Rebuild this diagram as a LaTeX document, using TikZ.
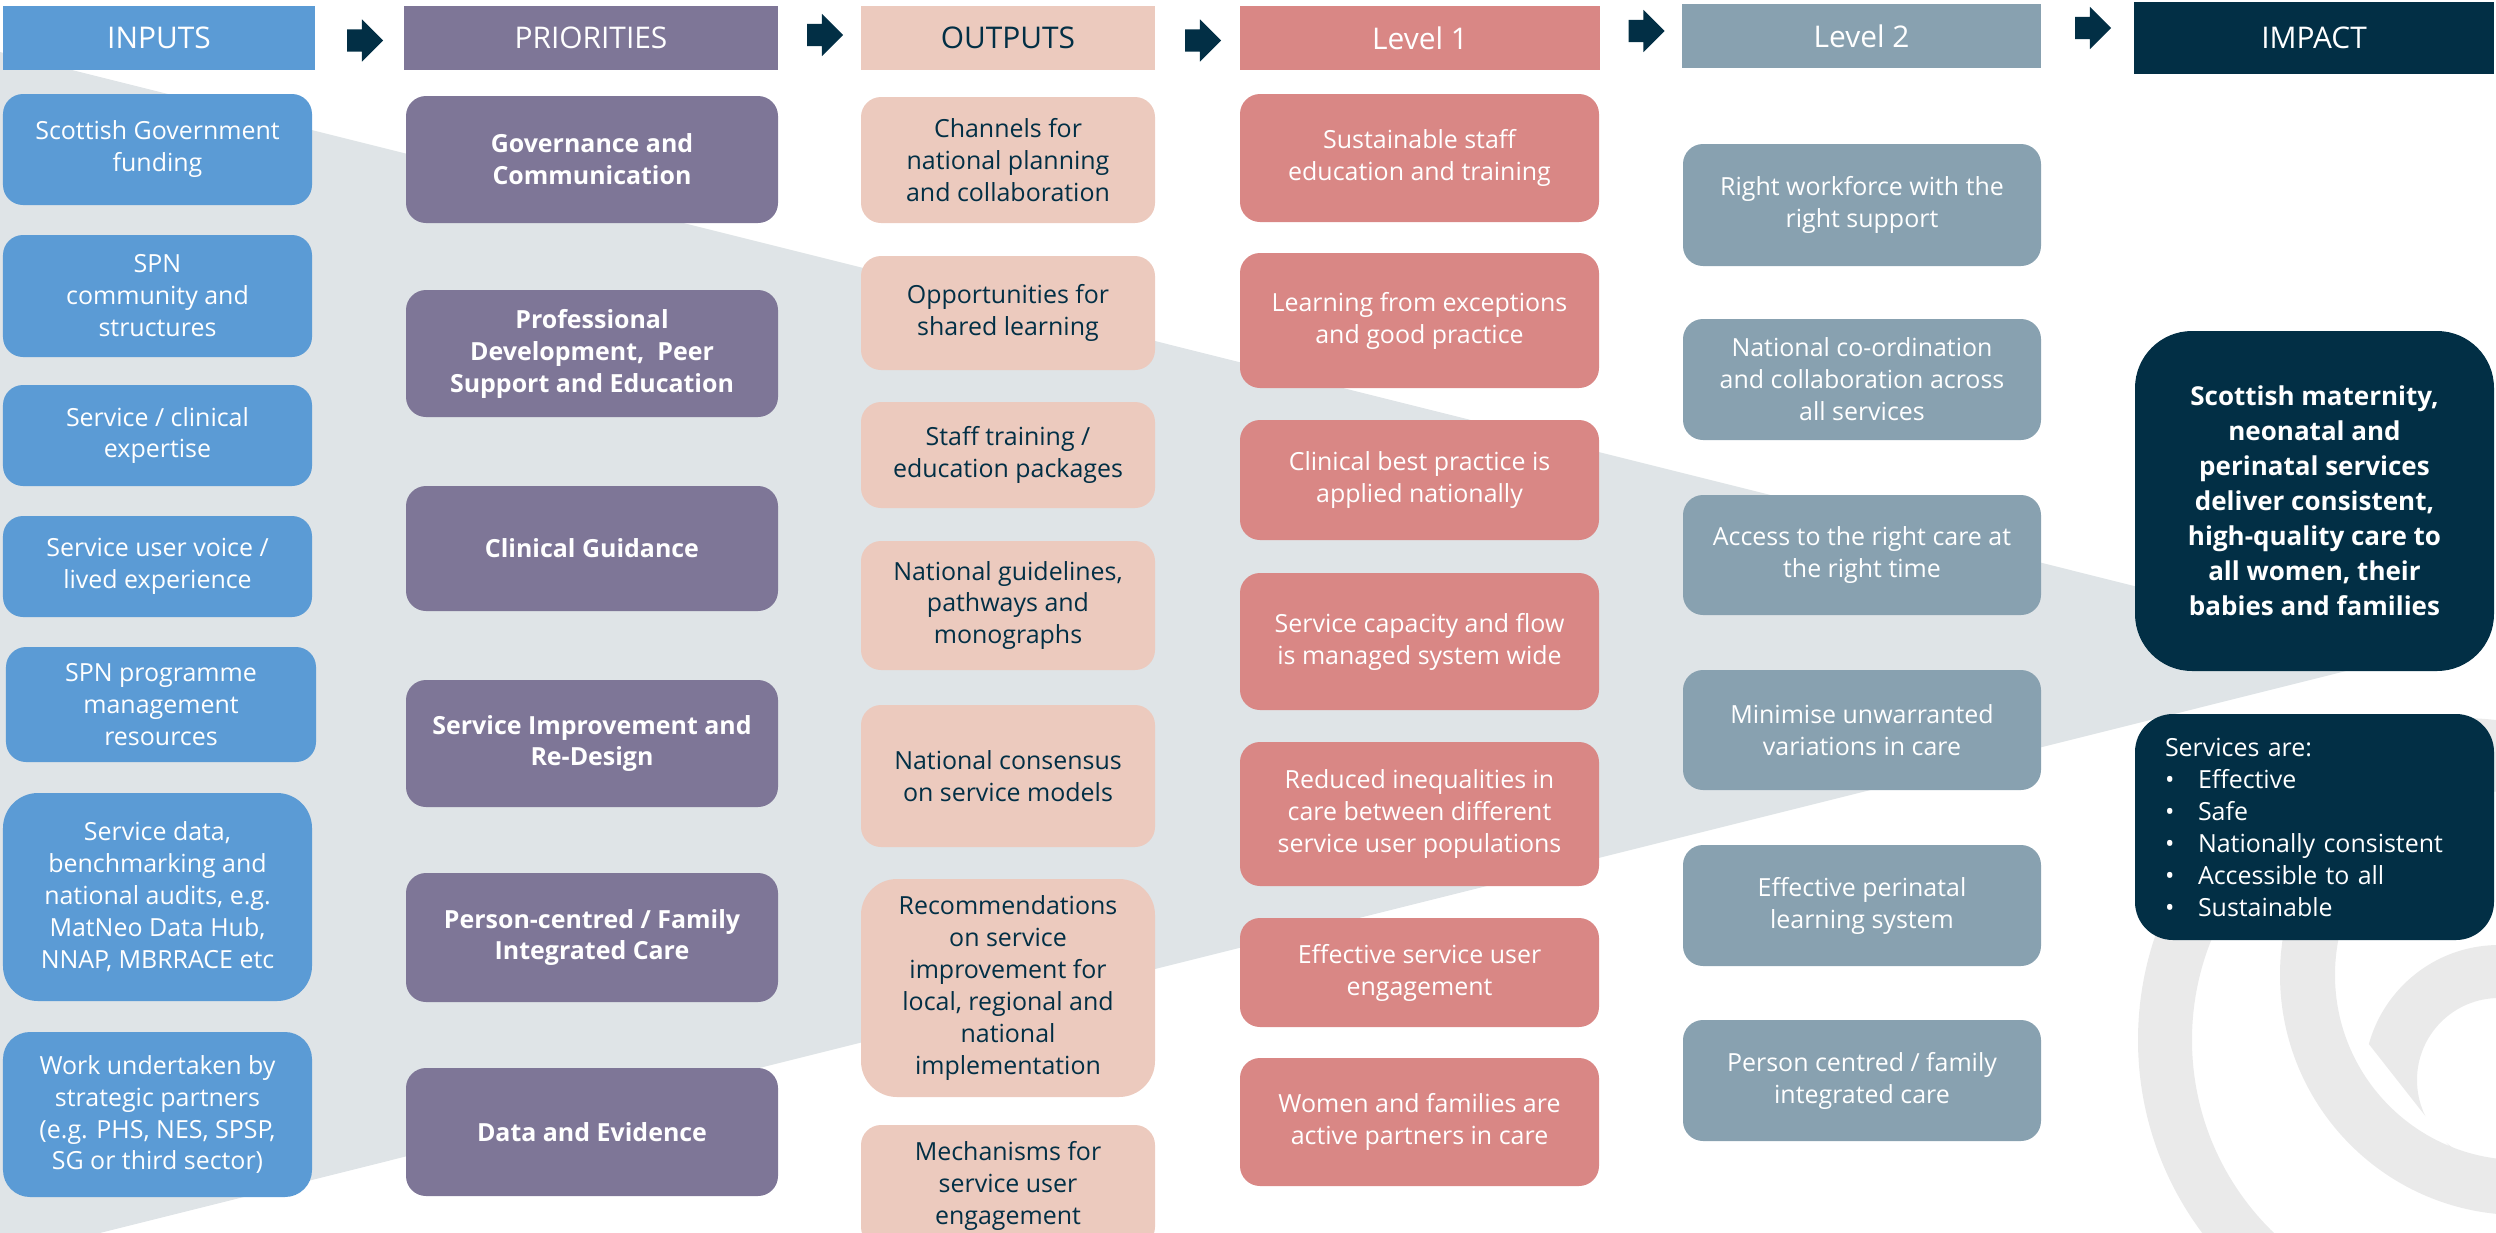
\documentclass[tikz,border=0pt]{standalone}
\usepackage{fontspec}
\setmainfont{Open Sans}
\usetikzlibrary{shapes.arrows, positioning, calc}
\definecolor{InputBlue}{HTML}{5B9BD5}
\definecolor{PriorityPurple}{HTML}{7E7697}
\definecolor{OutputPeach}{HTML}{ECCABE}
\definecolor{LevelOneRose}{HTML}{D98785}
\definecolor{LevelTwoSlate}{HTML}{88A1B0}
\definecolor{ImpactNavy}{HTML}{022F45}
\definecolor{FunnelGrey}{HTML}{DFE4E7}
\definecolor{LogoGrey}{HTML}{EAEAEA}
\tikzset{
  % Box styles
  headbox/.style={rectangle, minimum height=0.64cm, inner sep=0pt, text=white, font=\fontsize{8.5}{10}\selectfont},
  colbox/.style={rectangle, rounded corners=0.2cm, inner sep=0pt, align=center, text=white, font=\fontsize{7.1}{9.1}\selectfont},
  inputbox/.style={colbox, fill=InputBlue, minimum width=3.09cm},
  prioritybox/.style={colbox, fill=PriorityPurple, minimum width=3.72cm, font=\fontsize{7.1}{9.1}\selectfont\bfseries},
  outputbox/.style={colbox, fill=OutputPeach, text=ImpactNavy, minimum width=2.94cm},
  levelonebox/.style={colbox, fill=LevelOneRose, minimum width=3.59cm},
  leveltwobox/.style={colbox, fill=LevelTwoSlate, minimum width=3.58cm},
  impactbox/.style={colbox, fill=ImpactNavy, minimum width=3.59cm},
  % Arrow style
  blockarrow/.style={single arrow, fill=ImpactNavy, inner xsep=0pt, inner ysep=0.105cm, minimum width=0.41cm, minimum height=0.36cm, single arrow head extend=0.1cm}
}
\newcommand{\bul}{\makebox[0.33cm][l]{•}}

\begin{document}
\begin{tikzpicture}
  \useasboundingbox (0,0) rectangle (24.96,-12.32);

  % Background funnel and logo
  \begin{scope}
    \clip (0,0) rectangle (24.96,-12.32);
    \fill[FunnelGrey] (0,-0.52) -- (24.10,-6.55) -- (0,-12.58) -- cycle;
    \fill[LogoGrey, even odd rule] (24.60,-10.40) circle (3.22) (24.60,-10.40) circle (2.68);
    \fill[LogoGrey, even odd rule] (25.20,-9.75) circle (2.40) (25.20,-9.75) circle (1.85);
    \begin{scope}
      \clip (23.13,-9.73) -- (25.33,-12.53) -- (26,-12.53) -- (26,-9.0) -- (23.13,-9.0) -- cycle;
      \fill[LogoGrey, even odd rule] (24.99,-10.80) circle (1.35) (24.99,-10.80) circle (0.82);
    \end{scope}
  \end{scope}

  % Column headers
  \node[headbox, fill=InputBlue, minimum width=3.12cm] (hin) at (1.59,-0.38) {INPUTS};
  \node[headbox, fill=PriorityPurple, minimum width=3.74cm] (hpri) at (5.91,-0.38) {PRIORITIES};
  \node[headbox, fill=OutputPeach, text=ImpactNavy, minimum width=2.94cm] (hout) at (10.08,-0.38) {OUTPUTS};
  \node[headbox, fill=LevelOneRose, minimum width=3.60cm] (hlone) at (14.20,-0.38) {Level 1};
  \node[headbox, fill=LevelTwoSlate, minimum width=3.59cm] (hltwo) at (18.615,-0.36) {Level 2};
  \node[headbox, fill=ImpactNavy, minimum width=3.60cm, minimum height=0.72cm] (himp) at (23.14,-0.38) {IMPACT};

  % Arrows between headers
  \node[blockarrow, yshift=-0.025cm] (aone) at ($(hin.east)!0.5!(hpri.west)$) {};
  \node[blockarrow, yshift=0.03cm] (atwo) at ($(hpri.east)!0.5!(hout.west)$) {};
  \node[blockarrow, yshift=-0.025cm] (athree) at ($(hout.east)!0.5!(hlone.west)$) {};
  \node[blockarrow, yshift=0.06cm] (afour) at ($(hlone.east)!0.5!(hltwo.west)$) {};
  \node[blockarrow, yshift=0.09cm] (afive) at ($(hltwo.east)!0.5!(himp.west)$) {};

  % Inputs
  \node[inputbox, minimum height=1.11cm] (in1) at (1.575,-1.495) {Scottish Government\\funding};
  \node[inputbox, minimum height=1.22cm] (in2) at (1.575,-2.96) {SPN\\community and\\structures};
  \node[inputbox, minimum height=1.01cm] (in3) at (1.575,-4.355) {Service / clinical\\expertise};
  \node[inputbox, minimum height=1.01cm] (in4) at (1.575,-5.665) {Service user voice /\\lived experience};
  \node[inputbox, minimum height=1.15cm, minimum width=3.10cm] (in5) at (1.61,-7.045) {SPN programme\\management\\resources};
  \node[inputbox, minimum height=2.08cm, rounded corners=0.35cm] (in6) at (1.575,-8.97) {Service data,\\benchmarking and\\national audits, e.g.\\MatNeo Data Hub,\\NNAP, MBRRACE etc};
  \node[inputbox, minimum height=1.65cm, rounded corners=0.27cm] (in7) at (1.575,-11.145) {Work undertaken by\\strategic partners\\(e.g. PHS, NES, SPSP,\\SG or third sector)};

  % Priorities
  \node[prioritybox, minimum height=1.27cm] (pr1) at (5.92,-1.595) {Governance and\\Communication};
  \node[prioritybox, minimum height=1.27cm] (pr2) at (5.92,-3.535) {Professional\\Development,\ \ Peer\\Support and Education};
  \node[prioritybox, minimum height=1.25cm] (pr3) at (5.92,-5.485) {Clinical Guidance};
  \node[prioritybox, minimum height=1.27cm] (pr4) at (5.92,-7.435) {Service Improvement and\\Re-Design};
  \node[prioritybox, minimum height=1.29cm] (pr5) at (5.92,-9.375) {Person-centred / Family\\Integrated Care};
  \node[prioritybox, minimum height=1.28cm] (pr6) at (5.92,-11.32) {Data and Evidence};

  % Outputs
  \node[outputbox, minimum height=1.26cm] (out1) at (10.08,-1.60) {Channels for\\national planning\\and collaboration};
  \node[outputbox, minimum height=1.14cm] (out2) at (10.08,-3.13) {Opportunities for\\shared learning};
  \node[outputbox, minimum height=1.06cm] (out3) at (10.08,-4.55) {Staff training /\\education packages};
  \node[outputbox, minimum height=1.29cm] (out4) at (10.08,-6.055) {National guidelines,\\pathways and\\monographs};
  \node[outputbox, minimum height=1.42cm] (out5) at (10.08,-7.76) {National consensus\\on service models};
  \node[outputbox, minimum height=2.18cm, rounded corners=0.36cm] (out6) at (10.08,-9.88) {Recommendations\\on service\\improvement for\\local, regional and\\national\\implementation};
  \node[outputbox, minimum height=1.22cm] (out7) at (10.08,-11.86) {Mechanisms for\\service user\\engagement};

  % Level 1
  \node[levelonebox, minimum height=1.28cm] (lo1) at (14.195,-1.58) {Sustainable staff\\education and training};
  \node[levelonebox, minimum height=1.35cm] (lo2) at (14.195,-3.205) {Learning from exceptions\\and good practice};
  \node[levelonebox, minimum height=1.20cm] (lo3) at (14.195,-4.80) {Clinical best practice is\\applied nationally};
  \node[levelonebox, minimum height=1.37cm] (lo4) at (14.195,-6.415) {Service capacity and flow\\is managed system wide};
  \node[levelonebox, minimum height=1.44cm] (lo5) at (14.195,-8.14) {Reduced inequalities in\\care between different\\service user populations};
  \node[levelonebox, minimum height=1.09cm] (lo6) at (14.195,-9.725) {Effective service user\\engagement};
  \node[levelonebox, minimum height=1.28cm] (lo7) at (14.195,-11.22) {Women and families are\\active partners in care};

  % Level 2
  \node[leveltwobox, minimum height=1.22cm] (lt1) at (18.62,-2.05) {Right workforce with the\\right support};
  \node[leveltwobox, minimum height=1.21cm] (lt2) at (18.62,-3.795) {National co-ordination\\and collaboration across\\all services};
  \node[leveltwobox, minimum height=1.20cm] (lt3) at (18.62,-5.55) {Access to the right care at\\the right time};
  \node[leveltwobox, minimum height=1.20cm] (lt4) at (18.62,-7.30) {Minimise unwarranted\\variations in care};
  \node[leveltwobox, minimum height=1.21cm] (lt5) at (18.62,-9.055) {Effective perinatal\\learning system};
  \node[leveltwobox, minimum height=1.21cm] (lt6) at (18.62,-10.805) {Person centred / family\\integrated care};

  % Impact
  \node[impactbox, minimum height=3.40cm, rounded corners=0.57cm, font=\fontsize{7.4}{9.96}\selectfont\bfseries] (im1) at (23.145,-5.01) {Scottish maternity,\\neonatal and\\perinatal services\\deliver consistent,\\high-quality care to\\all women, their\\babies and families};
  \node[impactbox, minimum height=2.26cm, rounded corners=0.38cm, align=left, text width=2.99cm, inner xsep=0.3cm] (im2) at (23.145,-8.27) {Services are:\\\bul Effective\\\bul Safe\\\bul Nationally consistent\\\bul Accessible to all\\\bul Sustainable};
\end{tikzpicture}
\end{document}
